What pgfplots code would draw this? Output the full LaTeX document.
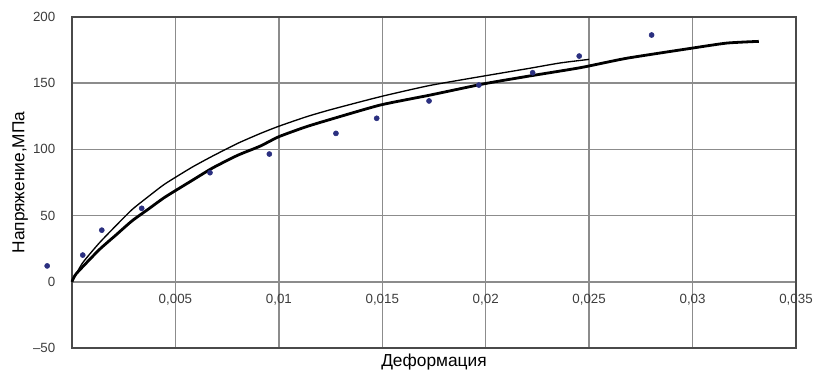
\documentclass[border=0pt]{standalone}
\usepackage{pgfplots}
\pgfplotsset{compat=1.18}
\usepackage{fontspec}
\setmainfont{Liberation Sans}
\definecolor{gridc}{HTML}{8C8C8C}
\definecolor{framec}{HTML}{4A4A4A}
\definecolor{ticklab}{HTML}{3C3C3C}
\definecolor{dotc}{HTML}{2B3080}
\begin{document}
\begin{tikzpicture}
\begin{axis}[
  at={(0,0)}, anchor=south west,
  scale only axis, width=543pt, height=248.25pt,
  xmin=0, xmax=0.035, ymin=-50, ymax=200,
  scaled x ticks=false,
  xtick={0.005,0.01,0.015,0.02,0.025,0.03,0.035},
  xticklabels={{0,005},{0,01},{0,015},{0,02},{0,025},{0,03},{0,035}},
  ytick={-50,0,50,100,150,200},
  yticklabels={--50,0,50,100,150,200},
  major tick length=0pt,
  grid=major,
  major grid style={gridc, line width=1.1pt},
  axis line style={framec, line width=1.4pt},
  xticklabel style={font=\fontsize{10}{12}\selectfont, text=ticklab, yshift=44pt},
  yticklabel style={font=\fontsize{10}{12}\selectfont, text=ticklab, xshift=-9pt},
  xlabel={Деформация},
  ylabel={Напряжение,МПа},
  xlabel style={font=\fontsize{13}{15}\selectfont, yshift=-1pt},
  ylabel style={font=\fontsize{13}{15}\selectfont, yshift=-3pt},
  clip=false,
]
% upper thin curve
\addplot[black, line width=1.0pt, smooth, tension=0.35] coordinates {
(0,0) (0.0005,14) (0.0013,29) (0.0021,42) (0.0029,54.5) (0.0037,64.5)
(0.0045,74) (0.0058,86.5) (0.0068,95) (0.008,104.5) (0.0091,112) (0.01,117.5)
(0.0113,124.5) (0.0125,130) (0.0149,139.8) (0.0173,148.3) (0.0199,155.4)
(0.0221,161.2) (0.0236,165.3) (0.025,168)
};
% lower thick curve
\addplot[black, line width=2.1pt, smooth, tension=0.35] coordinates {
(0,0) (0.0002,6) (0.0013,24) (0.0021,35) (0.0029,46) (0.0037,55)
(0.0045,64) (0.0058,76.5) (0.0068,86) (0.008,95.5) (0.0091,102.5) (0.01,109.6)
(0.0113,117) (0.0125,122.7) (0.0149,133.5) (0.0173,141) (0.0199,149.5)
(0.0221,155.4) (0.0246,161.8) (0.0268,168.8) (0.0299,176.3) (0.03165,180.3)
(0.0332,181.6)
};
% experimental points
\addplot[only marks, mark=*, mark size=1.9pt, color=dotc] coordinates {
(-0.0012,12) (0.00052,20.2) (0.00144,39) (0.00337,55.5) (0.00667,82.4)
(0.00954,96.5) (0.01276,112.1) (0.01473,123.5) (0.01726,136.6)
(0.01967,148.6) (0.02227,157.9) (0.02452,170.5) (0.02802,186.4)
};
\end{axis}
\pgfresetboundingbox
\path[use as bounding box] (-54pt,-21pt) rectangle (556.5pt,261pt);
\end{tikzpicture}
\end{document}
